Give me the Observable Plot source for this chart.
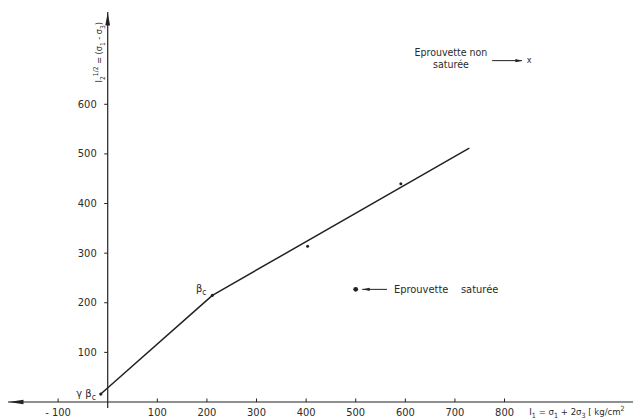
<!DOCTYPE html>
<html>
<head>
<meta charset="utf-8">
<script src="https://cdn.jsdelivr.net/npm/d3@7"></script>
<script src="https://cdn.jsdelivr.net/npm/@observablehq/plot@0.6"></script>
<style>
  html, body { margin: 0; padding: 0; background: #fff; overflow: hidden; }
  #chart svg { display: block; }
</style>
</head>
<body>
<div id="chart"></div>
<script>
// Tick values along each axis
const xTicks = [-100, 100, 200, 300, 400, 500, 600, 700, 800];
const yTicks = [100, 200, 300, 400, 500, 600];

// Bilinear failure envelope: start (γβc), knee (βc), end of the fitted segment
const fitI1 = [-14, 211, 728];
const fitJ2 = [16, 215, 511];

// Test results on unsaturated specimens
const testI1 = [403, 591];
const testJ2 = [314, 440];

const ink = "#222";
const txt = "#2b2b2b";

// Custom symbols: filled arrowheads (tip at the anchor point) and short axis ticks
const arrowUp = {draw(c) { c.moveTo(0, 0); c.lineTo(2.4, 13); c.lineTo(-2.4, 13); c.closePath(); }};
const arrowLeft = {draw(c) { c.moveTo(0, 0); c.lineTo(15, -2.2); c.lineTo(15, 2.2); c.closePath(); }};
const smallRight = {draw(c) { c.moveTo(0, 0); c.lineTo(-7, -1.6); c.lineTo(-7, 1.6); c.closePath(); }};
const smallLeft = {draw(c) { c.moveTo(0, 0); c.lineTo(7, -1.6); c.lineTo(7, 1.6); c.closePath(); }};
const tickLeft = {draw(c) { c.moveTo(-3.5, 0); c.lineTo(0, 0); }};
const tickUp = {draw(c) { c.moveTo(0, -3.5); c.lineTo(0, 0); }};

const fit = fitI1.map((x, i) => ({x, y: fitJ2[i]}));
const tests = testI1.map((x, i) => ({x, y: testJ2[i]}));

const chart = Plot.plot({
  width: 635,
  height: 419,
  margin: 0,
  style: {
    fontFamily: '"Liberation Sans Narrow", "DejaVu Sans Condensed", "Arial Narrow", sans-serif',
    fontSize: "11px",
    background: "#fff",
    color: txt,
    overflow: "visible"
  },
  x: {domain: [-200, 1060], range: [8, 633], axis: null},
  y: {domain: [0, 785], range: [401.5, 12], axis: null},
  marks: [
    // Axes through the origin, with arrowheads
    Plot.ruleY([0], {x1: -200, x2: 1060, stroke: ink, strokeWidth: 1.2}),
    Plot.ruleX([0], {y1: -13, y2: 785, stroke: ink, strokeWidth: 1.2}),
    Plot.dot([0], {x: 0, y: 785, symbol: arrowUp, fill: ink, stroke: "none"}),
    Plot.dot([0], {x: -200, y: 0, symbol: arrowLeft, fill: ink, stroke: "none"}),

    // Ticks and tick labels
    Plot.dot(xTicks, {x: d => d, y: 0, symbol: tickUp, fill: "none", stroke: ink, strokeWidth: 1}),
    Plot.dot(yTicks, {x: 0, y: d => d, symbol: tickLeft, fill: "none", stroke: ink, strokeWidth: 1}),
    Plot.text(xTicks, {x: d => d, y: 0, dy: 10, text: d => d < 0 ? "- " + Math.abs(d) : String(d), fill: txt}),
    Plot.text(yTicks, {x: 0, y: d => d, dx: -11, textAnchor: "end", text: d => String(d), fill: txt}),

    // Axis titles
    Plot.text(["I_2^{1/2} = (σ_1 - σ_3)"], {x: 0, y: 705, dx: -9, rotate: -90, text: d => d, fill: txt, fontSize: 9}),
    Plot.text(["I_1 = σ_1 + 2σ_3 [ kg/cm^2"], {x: 850, y: 0, dy: 10, textAnchor: "start", text: d => d, fill: txt, fontSize: 9.5}),

    // Envelope
    Plot.line(fit, {x: "x", y: "y", stroke: ink, strokeWidth: 1.5}),
    Plot.dot(fit.slice(0, 2), {x: "x", y: "y", r: 1.6, fill: ink, stroke: "none"}),
    Plot.text([fit[1]], {x: "x", y: "y", dx: -6, dy: -7, textAnchor: "end", text: () => "β_c", fill: txt}),
    Plot.text([fit[0]], {x: "x", y: "y", dx: -5, dy: -1, textAnchor: "end", text: () => "γ β_c", fill: txt}),

    // Unsaturated specimens
    Plot.dot(tests, {x: "x", y: "y", r: 1.5, fill: ink, stroke: "none"}),

    // Key: saturated specimen
    Plot.dot([0], {x: 500, y: 227, r: 2.4, fill: ink, stroke: "none"}),
    Plot.ruleY([227], {x1: 514, x2: 564, stroke: ink, strokeWidth: 1}),
    Plot.dot([0], {x: 514, y: 227, symbol: smallLeft, fill: ink, stroke: "none"}),
    Plot.text(["Eprouvette\u00a0\u00a0\u00a0 saturée"], {x: 577, y: 227, textAnchor: "start", text: d => d, fill: txt}),

    // Key: unsaturated specimen
    Plot.text(["Eprouvette non\nsaturée"], {x: 692, y: 693, lineHeight: 1.15, text: d => d, fill: txt, fontSize: 10.5}),
    Plot.ruleY([688], {x1: 776, x2: 836, stroke: ink, strokeWidth: 1}),
    Plot.dot([0], {x: 836, y: 688, symbol: smallRight, fill: ink, stroke: "none"}),
    Plot.text(["x"], {x: 845, y: 688, dy: -1, textAnchor: "start", text: d => d, fill: txt, fontSize: 9})
  ]
});

// Turn _x / _{..} and ^x / ^{..} into subscript and superscript tspans
function richify(svg) {
  const NS = "http://www.w3.org/2000/svg";
  svg.querySelectorAll("text").forEach(t => {
    if (t.children.length) return;
    const s = t.textContent;
    if (!/[_^]/.test(s)) return;
    t.textContent = "";
    let cur = 0;
    const re = /([_^])(\{[^}]*\}|.)|([^_^]+)/g;
    let m;
    while ((m = re.exec(s))) {
      let str, off, small;
      if (m[3]) { str = m[3]; off = 0; small = false; }
      else {
        str = m[2].startsWith("{") ? m[2].slice(1, -1) : m[2];
        off = m[1] === "_" ? 3 : -4;
        small = true;
      }
      const ts = document.createElementNS(NS, "tspan");
      ts.textContent = str;
      if (off !== cur) ts.setAttribute("dy", off - cur);
      if (small) ts.setAttribute("font-size", "75%");
      t.appendChild(ts);
      cur = off;
    }
  });
}
richify(chart);

document.getElementById("chart").appendChild(chart);
</script>
</body>
</html>
